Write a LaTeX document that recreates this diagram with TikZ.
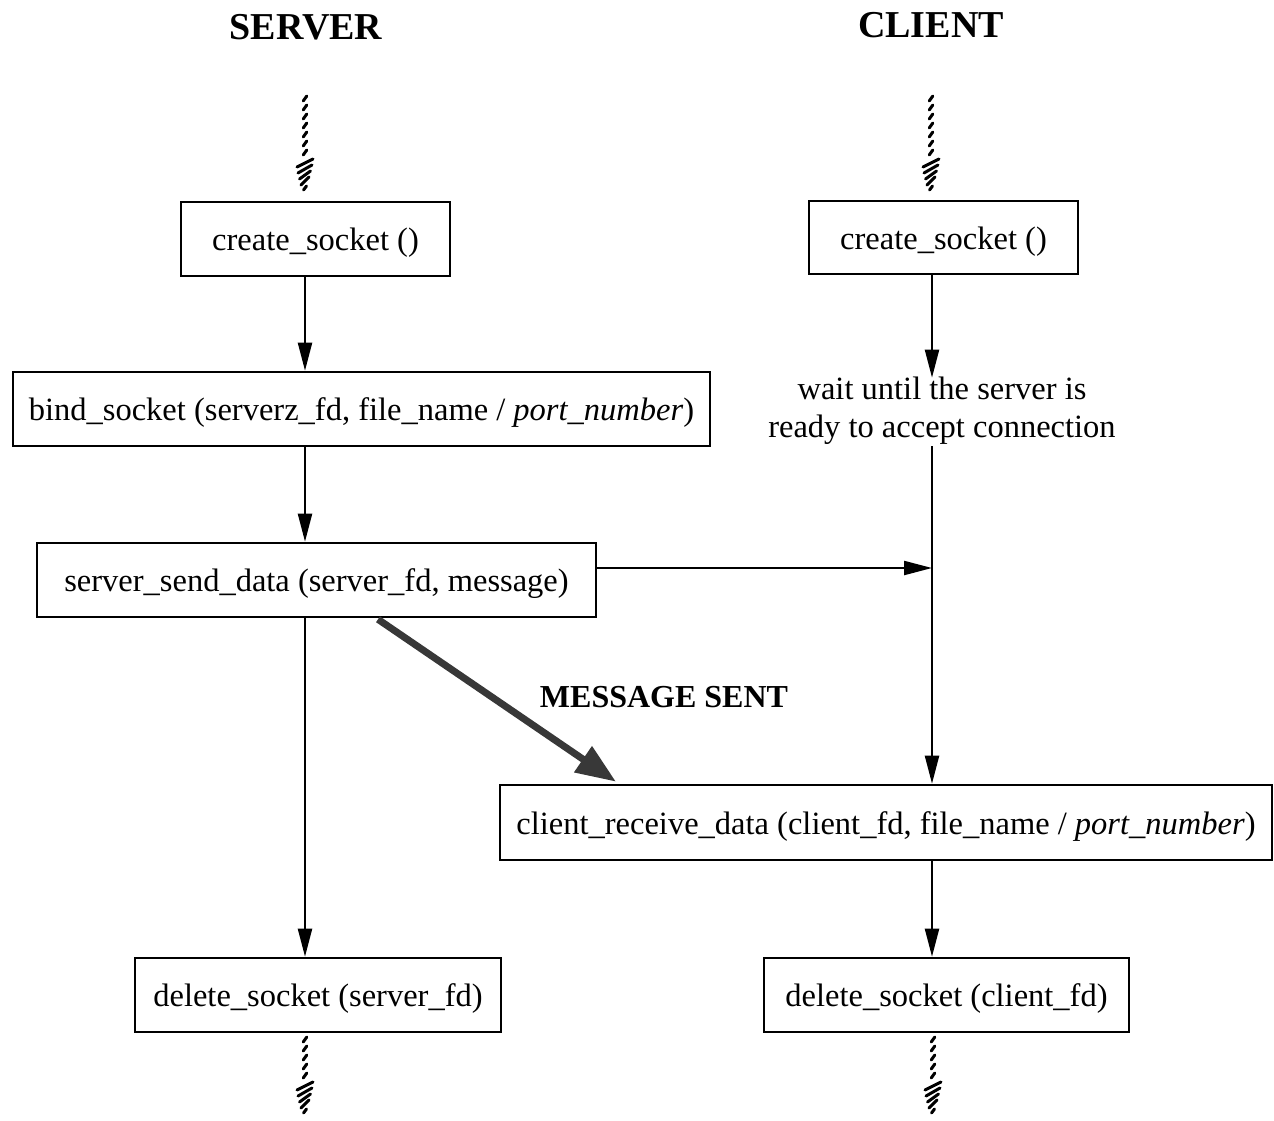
\documentclass[tikz,border=0pt]{standalone}
\usepackage{fontspec}
\setmainfont{Liberation Serif}
\usetikzlibrary{arrows.meta}
\tikzset{
  box/.style={draw, line width=2.6pt, inner sep=0pt, text height=29pt, text depth=6pt,
    font=\fontsize{32.5}{36}\selectfont},
  flowarr/.style={line width=2.2pt, -{Triangle[length=28pt,width=14pt]}},
  heavyarr/.style={line width=7pt, black!78, -{Triangle[length=40pt,width=30pt]}},
  title/.style={font=\fontsize{38}{42}\selectfont\bfseries},
  note/.style={font=\fontsize{32.5}{38}\selectfont, align=center},
  hatch/.style={line width=3pt, line cap=round},
  % broken flow: dashed stem of slanted strokes ending in a hatched head
  pics/brokenflow/.style={code={
    \foreach \t in {0,9,...,#1}
      \draw[hatch] (1.8,\t) -- (-1.8,\t+5);
    \foreach \d/\w in {7/8, 13/7, 19/5.5, 25/4}
      \draw[hatch] (\w,#1+\d-4) -- (-\w,#1+\d+4);
    \draw[hatch] (1.5,#1+30) -- (-1.5,#1+34);
  }}
}
\begin{document}
\begin{tikzpicture}[x=1pt, y=-1pt]
\useasboundingbox (0,0) rectangle (1274,1120);

% column titles
\node[title] (srvtitle) at (306,27) {SERVER};
\node[title] (clttitle) at (931,25) {CLIENT};

% column axes
\coordinate (sx) at (305,0);
\coordinate (cx) at (932,0);

% incoming and outgoing flows
\pic at (305,96) {brokenflow=60};
\pic at (931,96) {brokenflow=60};
\pic at (305,1037) {brokenflow=42};
\pic at (933,1037) {brokenflow=42};

% server side
\node[box, minimum width=269pt, minimum height=74pt] (screate) at (315.5,239) {create\_socket ()};
\node[box, minimum width=697pt, minimum height=74pt] (bind) at (361.5,409)
  {bind\_socket (serverz\_fd, file\_name / \textit{port\_number})};
\node[box, minimum width=559pt, minimum height=74pt] (send) at (316.5,580)
  {server\_send\_data (server\_fd, message)};
\node[box, minimum width=366pt, minimum height=74pt] (sdelete) at (318,995)
  {delete\_socket (server\_fd)};

% client side
\node[box, minimum width=269pt, minimum height=73pt] (ccreate) at (943.5,237.5) {create\_socket ()};
\node[note] (wait) at (942,411) {wait until the server is\\ready to accept connection};
\node[box, minimum width=772pt, minimum height=75pt] (recv) at (886,822.5)
  {client\_receive\_data (client\_fd, file\_name / \textit{port\_number})};
\node[box, minimum width=365pt, minimum height=74pt] (cdelete) at (946.5,995)
  {delete\_socket (client\_fd)};

% server flow
\draw[flowarr] (screate.south -| sx) -- (bind.north -| sx);
\draw[flowarr] (bind.south -| sx) -- (send.north -| sx);
\draw[flowarr] (send.south -| sx) -- (sdelete.north -| sx);

% client flow
\draw[flowarr] (ccreate.south -| cx) -- ([yshift=-4pt]wait.north -| cx);
\draw[flowarr] ([yshift=2pt]wait.south -| cx) -- (recv.north -| cx);
\draw[flowarr] (recv.south -| cx) -- (cdelete.north -| cx);

% ready signal to the client
\coordinate (hit) at (932,568);
\draw[flowarr] (send.east |- hit) -- (hit);

% the message itself
\coordinate (msgfrom) at (378,0);
\coordinate (msgto) at (616,0);
\draw[heavyarr] ([yshift=-1pt]send.south -| msgfrom) -- ([yshift=2pt]recv.north -| msgto);
\node[font=\fontsize{32}{36}\selectfont\bfseries] (msglabel) at (664,697) {MESSAGE SENT};
\end{tikzpicture}
\end{document}
